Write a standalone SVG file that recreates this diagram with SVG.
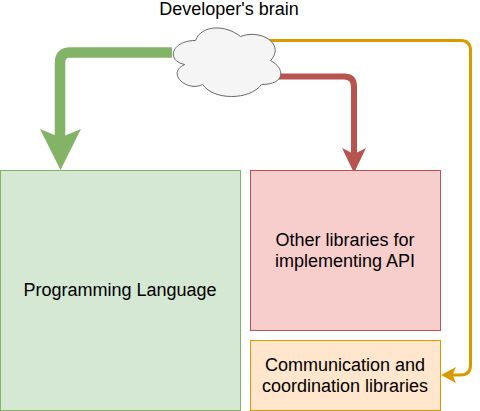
<svg xmlns="http://www.w3.org/2000/svg" width="480" height="411" viewBox="0 0 480 411">
<style>
text{font-family:"Liberation Sans",Arial,sans-serif;font-size:18px;fill:#000;text-anchor:middle}
.c{fill:none;stroke-linejoin:round}
</style>
<g id="connectors">
<path class="c" d="M172 52.500H70Q60 52.500 60 62.500V145" stroke="#82b366" stroke-width="10.500"/>
<path d="M60.500 170L40 129L60.500 137.500L81 129Z" fill="#82b366"/>
<path class="c" d="M278 76.500H344Q354 76.500 354 86.500V158" stroke="#b85450" stroke-width="6"/>
<path d="M354 173L342 148L354 154L366 148Z" fill="#b85450"/>
<path class="c" d="M268 40.500H460.500Q470.500 40.500 470.500 50.500V365Q470.500 375 460.500 375H450" stroke="#d79b00" stroke-width="3"/>
<path d="M441 375L456 367L452.500 375L456 383Z" fill="#d79b00"/>
</g>
<g id="cloud">
<path transform="translate(165.500 20.500)" d="M30 20C6 20 0 40 19.200 44C0 52.800 21.600 72 37.200 64C48 80 84 80 96 64C120 64 120 48 105 40C120 24 96 8 75 16C60 4 36 4 30 20Z" fill="#f5f5f5" stroke="#666666"/>
</g>
<g id="brain-label"><text x="229" y="15">Developer's brain</text></g>
<g id="programming-language">
<rect x="0.500" y="170.500" width="240" height="240" fill="#d5e8d4" stroke="#82b366"/>
<text x="120" y="296">Programming Language</text>
</g>
<g id="other-libraries">
<rect x="250.500" y="170.500" width="190" height="160" fill="#f8cecc" stroke="#b85450"/>
<text x="345" y="246">Other libraries for</text>
<text x="345" y="267">implementing API</text>
</g>
<g id="communication">
<rect x="250.500" y="340.500" width="190" height="70" fill="#ffe6cc" stroke="#d79b00"/>
<text x="345" y="371">Communication and</text>
<text x="345" y="392">coordination libraries</text>
</g>
</svg>
